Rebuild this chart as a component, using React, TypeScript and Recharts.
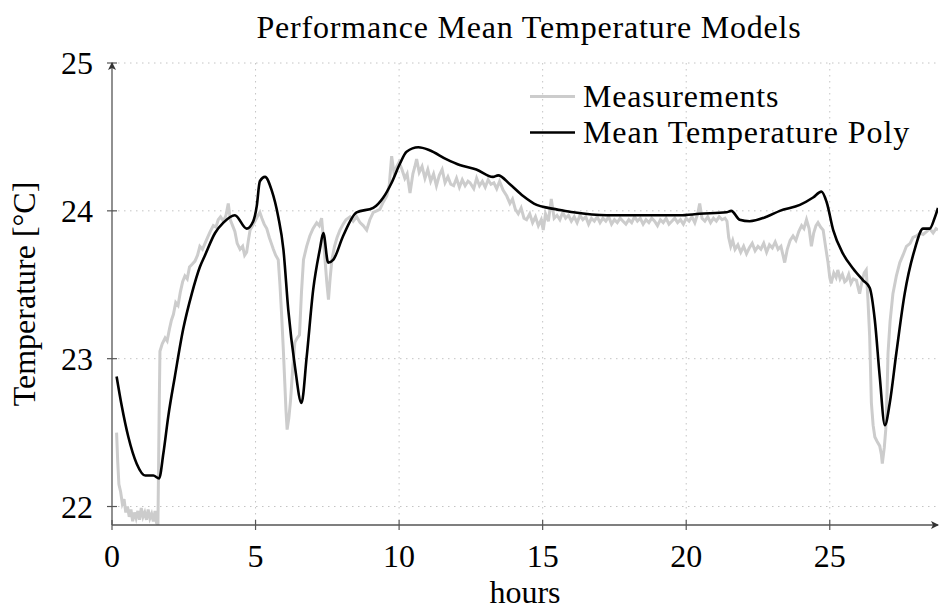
import React from "react";
import { LineChart, Line, XAxis, YAxis, CartesianGrid } from "recharts";

// Mean Temperature Poly (smooth model)
const polyHours = [
  0.16, 0.34, 0.57, 0.86, 1.16, 1.44, 1.64, 1.79, 1.96, 2.19, 2.48, 2.78, 3.06, 3.24, 3.59, 3.88,
  4.28, 4.69, 4.92, 5.04, 5.15, 5.33, 5.56, 5.79, 5.97, 6.14, 6.37, 6.6, 6.78, 7.01, 7.24, 7.36,
  7.53, 7.71, 8.05, 8.52, 9.1, 9.45, 9.74, 10.03, 10.26, 10.67, 11.06, 11.64, 12.11, 12.69, 13.27,
  13.45, 13.86, 14.32, 14.79, 15.19, 15.48, 16.07, 17.23, 18.39, 19.78, 20.47, 21.4, 21.57, 21.86,
  22.21, 22.8, 23.26, 23.96, 24.42, 24.71, 24.89, 25.12, 25.46, 25.81, 26.16, 26.39, 26.57, 26.74,
  26.92, 27.09, 27.32, 27.61, 27.96, 28.25, 28.48, 28.65, 28.77,
];
const polyTemps = [
  22.88, 22.68, 22.47, 22.29, 22.21, 22.21, 22.19, 22.36, 22.61, 22.88, 23.2, 23.44, 23.62, 23.7, 23.85, 23.92,
  23.97, 23.88, 23.93, 24.03, 24.2, 24.23, 24.14, 23.96, 23.74, 23.33, 22.95, 22.7, 23.01, 23.47, 23.74, 23.85,
  23.65, 23.67, 23.83, 23.99, 24.02, 24.09, 24.19, 24.32, 24.4, 24.43, 24.41, 24.35, 24.31, 24.28, 24.23,
  24.24, 24.18, 24.1, 24.04, 24.02, 24.01, 23.99, 23.97, 23.97, 23.97, 23.98, 23.99, 24.0, 23.94,
  23.93, 23.96, 24.0, 24.04, 24.09, 24.13, 24.06, 23.87, 23.71, 23.61, 23.53, 23.48, 23.26, 22.88,
  22.55, 22.7, 23.04, 23.44, 23.74, 23.88, 23.88, 23.95, 24.02,
];

// Measurements (noisy sensor trace)
const measHours = [
  0.16, 0.2, 0.24, 0.3, 0.36, 0.42, 0.48, 0.54, 0.6, 0.66, 0.72, 0.78, 0.84, 0.9, 0.96, 1.02, 1.08, 1.14,
  1.2, 1.26, 1.32, 1.38, 1.44, 1.5, 1.55, 1.6, 1.64, 1.67, 1.75, 1.85, 1.92, 2.0, 2.07, 2.14, 2.22, 2.3,
  2.38, 2.46, 2.54, 2.62, 2.7, 2.8, 2.89, 2.98, 3.06, 3.15, 3.24, 3.33, 3.42, 3.53, 3.62, 3.7, 3.78, 3.88,
  3.97, 4.05, 4.12, 4.2, 4.28, 4.36, 4.46, 4.55, 4.62, 4.69, 4.75, 4.81, 4.9, 4.98, 5.06, 5.15, 5.22, 5.3,
  5.39, 5.48, 5.55, 5.62, 5.7, 5.79, 5.85, 5.91, 5.97, 6.02, 6.06, 6.1, 6.16, 6.22, 6.3, 6.37, 6.45, 6.53,
  6.6, 6.67, 6.78, 6.89, 7.0, 7.13, 7.22, 7.3, 7.36, 7.42, 7.48, 7.54, 7.6, 7.66, 7.75, 7.84, 7.94, 8.05,
  8.15, 8.29, 8.4, 8.52, 8.64, 8.75, 8.87, 8.98, 9.1, 9.22, 9.33, 9.45, 9.57, 9.66, 9.74, 9.82, 9.92, 10.0,
  10.1, 10.2, 10.28, 10.38, 10.48, 10.55, 10.61, 10.7, 10.8, 10.9, 11.0, 11.1, 11.2, 11.3, 11.4, 11.5, 11.6,
  11.7, 11.8, 11.9, 12.0, 12.1, 12.2, 12.3, 12.4, 12.47, 12.6, 12.7, 12.8, 12.9, 13.0, 13.1, 13.2, 13.3,
  13.4, 13.5, 13.62, 13.75, 13.86, 13.95, 14.05, 14.15, 14.25, 14.35, 14.44, 14.55, 14.65, 14.75, 14.85,
  14.95, 15.02, 15.1, 15.2, 15.3, 15.4, 15.5, 15.6, 15.7, 15.8, 15.9, 16.0, 16.1, 16.2, 16.3, 16.4, 16.5,
  16.6, 16.7, 16.8, 16.9, 17.0, 17.1, 17.2, 17.3, 17.4, 17.5, 17.6, 17.7, 17.8, 17.9, 18.0, 18.1, 18.2,
  18.3, 18.4, 18.5, 18.6, 18.7, 18.8, 18.9, 19.0, 19.1, 19.2, 19.3, 19.4, 19.5, 19.6, 19.7, 19.8, 19.9,
  20.0, 20.1, 20.2, 20.3, 20.4, 20.47, 20.55, 20.65, 20.75, 20.85, 20.95, 21.05, 21.15, 21.25, 21.35,
  21.42, 21.48, 21.55, 21.62, 21.7, 21.8, 21.9, 22.0, 22.1, 22.2, 22.3, 22.4, 22.5, 22.6, 22.7, 22.8,
  22.9, 23.0, 23.1, 23.2, 23.3, 23.43, 23.52, 23.62, 23.72, 23.82, 23.92, 24.02, 24.1, 24.19, 24.28,
  24.36, 24.44, 24.52, 24.59, 24.68, 24.77, 24.86, 24.94, 25.0, 25.05, 25.14, 25.22, 25.28, 25.36,
  25.44, 25.52, 25.58, 25.66, 25.74, 25.82, 25.93, 26.0, 26.04, 26.12, 26.2, 26.27, 26.33, 26.39,
  26.45, 26.51, 26.57, 26.65, 26.74, 26.8, 26.83, 26.9, 26.95, 27.0, 27.03, 27.1, 27.2, 27.32, 27.44,
  27.55, 27.67, 27.8, 27.9, 28.02, 28.15, 28.25, 28.37, 28.48, 28.6, 28.7, 28.77,
];
const measTemps = [
  22.5, 22.3, 22.15, 22.1, 22.02, 22.05, 21.96, 22.0, 21.93, 21.98, 21.9, 21.96, 21.92, 21.97, 21.91, 21.99, 21.93, 21.96,
  21.91, 21.98, 21.92, 21.95, 21.9, 21.97, 21.89, 21.88, 22.6, 23.05, 23.1, 23.14, 23.12, 23.2, 23.26, 23.3, 23.38, 23.36,
  23.45, 23.52, 23.56, 23.54, 23.62, 23.64, 23.66, 23.7, 23.76, 23.74, 23.78, 23.82, 23.86, 23.9, 23.89, 23.94, 23.96, 23.93,
  23.97, 24.05, 23.94, 23.9, 23.86, 23.78, 23.74, 23.76, 23.7, 23.72, 23.8, 23.87, 23.9, 23.93, 23.96, 23.99, 23.95, 23.91,
  23.88, 23.82, 23.78, 23.74, 23.7, 23.67, 23.5, 23.29, 23.05, 22.83, 22.65, 22.52, 22.6, 22.72, 22.95, 23.11, 23.14, 23.16,
  23.45, 23.67, 23.76, 23.83, 23.88, 23.92, 23.9, 23.95, 23.82, 23.67, 23.52, 23.4, 23.55, 23.67, 23.76, 23.82, 23.87, 23.91,
  23.94, 23.96, 23.93, 23.96, 23.92, 23.9, 23.87, 23.94, 23.99, 24.0, 24.01, 24.06, 24.1, 24.18, 24.37, 24.26, 24.3, 24.33,
  24.28, 24.22, 24.25, 24.12, 24.25, 24.3, 24.35, 24.26, 24.3, 24.22, 24.28, 24.2, 24.25, 24.17, 24.24, 24.28, 24.19,
  24.23, 24.18, 24.17, 24.22, 24.16, 24.21, 24.17, 24.2, 24.19, 24.15, 24.22, 24.17, 24.2, 24.16, 24.21, 24.18, 24.19,
  24.15, 24.2, 24.14, 24.1, 24.05, 24.08, 24.01, 23.98, 24.02, 23.95, 23.94, 23.98, 23.92, 23.96, 23.9,
  23.94, 23.87, 23.98, 23.93, 24.08, 23.95, 23.97, 23.94, 23.99, 23.95, 23.97, 23.93, 23.96, 23.92, 23.97, 23.94, 23.96,
  23.91, 23.95, 23.93, 23.96, 23.92, 23.95, 23.93, 23.96, 23.91, 23.94, 23.92, 23.95, 23.93, 23.91, 23.94, 23.92, 23.96,
  23.93, 23.95, 23.91, 23.94, 23.92, 23.95, 23.93, 23.9, 23.94, 23.92, 23.95, 23.91, 23.93, 23.95, 23.92, 23.94, 23.91,
  23.95, 23.93, 23.96, 23.92, 23.98, 24.05, 23.95, 23.93, 23.96, 23.92, 23.95, 23.93, 23.96, 23.94, 23.95,
  23.93, 23.82, 23.76, 23.8, 23.74, 23.77, 23.72, 23.76, 23.71, 23.75, 23.78, 23.73, 23.76, 23.74, 23.78, 23.72,
  23.77, 23.75, 23.79, 23.74, 23.76, 23.65, 23.74, 23.8, 23.83, 23.8, 23.86, 23.9, 23.88, 23.94, 23.88,
  23.76, 23.85, 23.9, 23.92, 23.89, 23.87, 23.75, 23.65, 23.55, 23.51, 23.58, 23.55, 23.6, 23.54,
  23.57, 23.52, 23.53, 23.57, 23.51, 23.54, 23.53, 23.47, 23.44, 23.52, 23.58, 23.6, 23.4, 23.15,
  22.7, 22.55, 22.47, 22.44, 22.41, 22.35, 22.29, 22.4, 22.52, 22.8, 23.04, 23.25, 23.44, 23.56, 23.65,
  23.7, 23.76, 23.78, 23.82, 23.83, 23.85, 23.84, 23.86, 23.88, 23.85, 23.88, 23.87,
];

const xTicks = [0, 5, 10, 15, 20, 25];
const yTicks = [22, 23, 24, 25];

const X_MAX = 28.77;
const Y_MIN = 21.875;
const FONT = "Liberation Serif, DejaVu Serif, serif";
const AXIS = "#555";
const FS = 32;

const measData = measHours.map((h, i) => ({ h, t: measTemps[i] }));
const polyData = polyHours.map((h, i) => ({ h, t: polyTemps[i] }));

// x ticks: mark crosses the axis line, last (hidden) tick carries the arrow head
const XTick = ({ x, y, payload }: any) => {
  if (payload.value >= X_MAX) {
    return (
      <path
        d={`M ${x + 1} ${y} L ${x - 7} ${y - 4} L ${x - 5} ${y} L ${x - 7} ${y + 4} Z`}
        fill="#333"
      />
    );
  }
  return (
    <g>
      <line x1={x} x2={x} y1={y - 5} y2={y + 5} stroke={AXIS} strokeWidth={1.2} />
      <text x={x} y={y + 42} textAnchor="middle" style={{ fontFamily: FONT, fontSize: FS }} fill="#000">
        {payload.value}
      </text>
    </g>
  );
};

const YTick = ({ x, y, payload }: any) => (
  <g>
    <line x1={x - 5} x2={x + 5} y1={y} y2={y} stroke={AXIS} strokeWidth={1.2} />
    {payload.value === 25 && (
      <path d={`M ${x} ${y - 1} L ${x - 4} ${y + 7} L ${x} ${y + 5} L ${x + 4} ${y + 7} Z`} fill="#333" />
    )}
    <text x={x - 19} y={y + 11} textAnchor="end" style={{ fontFamily: FONT, fontSize: FS }} fill="#000">
      {payload.value}
    </text>
  </g>
);

export default function App() {
  return (
    <div style={{ position: "absolute", left: 0, top: 0, width: 939, height: 614, background: "#fff" }}>
      <LineChart width={939} height={614} margin={{ top: 63, right: 1, bottom: 29, left: 52 }}>
        <CartesianGrid
          stroke="#c4c4c4"
          strokeDasharray="1.5 4.5"
          horizontalValues={yTicks}
          verticalValues={[5, 10, 15, 20, 25]}
        />
        <XAxis
          dataKey="h"
          type="number"
          domain={[0, X_MAX]}
          allowDataOverflow
          ticks={[...xTicks, X_MAX]}
          interval={0}
          height={60}
          tickSize={0}
          tickMargin={0}
          tickLine={false}
          axisLine={{ stroke: AXIS, strokeWidth: 1.3 }}
          tick={<XTick />}
        />
        <YAxis
          type="number"
          domain={[Y_MIN, 25]}
          allowDataOverflow
          ticks={yTicks}
          interval={0}
          width={60}
          tickSize={0}
          tickMargin={0}
          tickLine={false}
          axisLine={{ stroke: AXIS, strokeWidth: 1.3 }}
          tick={<YTick />}
        />
        <Line
          data={measData}
          dataKey="t"
          type="linear"
          stroke="#cccccc"
          strokeWidth={3}
          dot={false}
          activeDot={false}
          isAnimationActive={false}
        />
        <Line
          data={polyData}
          dataKey="t"
          type="monotone"
          stroke="#000"
          strokeWidth={2.6}
          dot={false}
          activeDot={false}
          isAnimationActive={false}
        />
      </LineChart>

      {/* title, axis labels and legend drawn on top */}
      <svg
        width={939}
        height={614}
        style={{ position: "absolute", left: 0, top: 0, pointerEvents: "none", fontFamily: FONT, fontSize: FS }}
      >
        <text x={529} y={38} textAnchor="middle" style={{ letterSpacing: 0.8 }}>
          Performance Mean Temperature Models
        </text>
        <text x={525} y={603} textAnchor="middle">hours</text>
        <text transform="translate(35, 294) rotate(-90)" textAnchor="middle">Temperature [°C]</text>
        <line x1={530} x2={575} y1={96.5} y2={96.5} stroke="#cccccc" strokeWidth={3} />
        <text x={583} y={106.5} style={{ letterSpacing: 0.8 }}>Measurements</text>
        <line x1={530} x2={575} y1={132.5} y2={132.5} stroke="#000" strokeWidth={2.6} />
        <text x={583} y={142.5} style={{ letterSpacing: 0.9 }}>Mean Temperature Poly</text>
      </svg>
    </div>
  );
}
